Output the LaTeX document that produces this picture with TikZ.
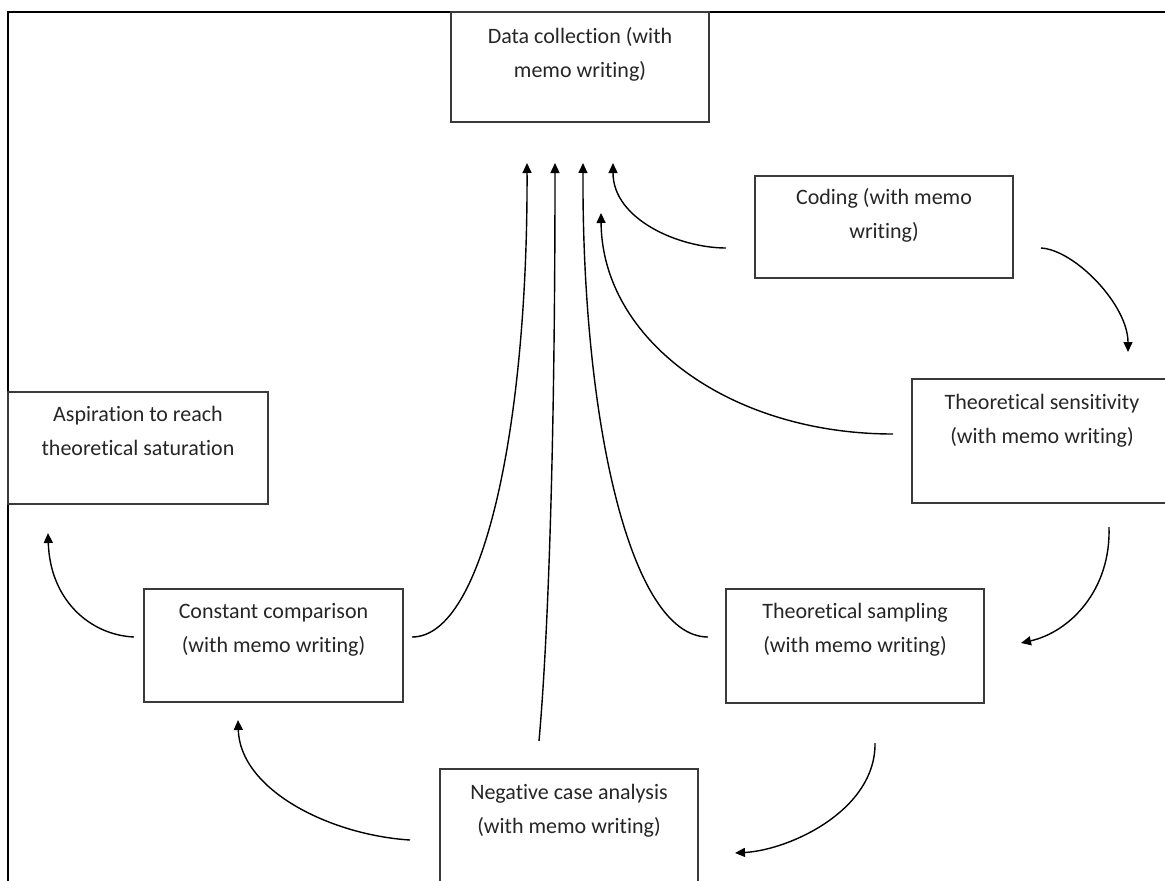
\documentclass[tikz,border=0pt]{standalone}
\usepackage{fontspec}
\setmainfont{Carlito}[RawFeature={-liga}]
\usetikzlibrary{arrows.meta}
\definecolor{boxline}{HTML}{3A3A3A}
\definecolor{txt}{HTML}{262626}
\newcommand{\firstln}{\rule{0pt}{18pt}}
\begin{document}
\begin{tikzpicture}[x=1pt,y=-1pt,
  box/.style={draw=boxline, line width=1.4pt, rectangle, inner sep=0pt},
  lab/.style={anchor=north, align=center, inner sep=0pt, text=txt, font=\fontsize{22}{34.5}\selectfont},
  arr/.style={line width=1.4pt, -{Triangle[length=10pt,width=9pt]}},
  frame/.style={line width=2pt, black}
]
\useasboundingbox (0,0) rectangle (1165,881);
\clip (0,0) rectangle (1165,881);
\fill[white] (0,0) rectangle (1165,881);

% frame
\draw[frame] (8,881) -- (8,12) -- (1165,12);

% boxes
\node[box, minimum width=258pt, minimum height=110pt] (data)  at (580,67)    {};
\node[box, minimum width=258pt, minimum height=102pt] (coding) at (884,227)  {};
\node[box, minimum width=260pt, minimum height=124pt] (sens)  at (1042,441)  {};
\node[box, minimum width=260pt, minimum height=112pt] (asp)   at (138,448)   {};
\node[box, minimum width=259pt, minimum height=113pt] (const) at (273.5,645.5) {};
\node[box, minimum width=258pt, minimum height=114pt] (samp)  at (855,646)   {};
\node[box, minimum width=258pt, minimum height=120pt] (neg)   at (569,829)   {};

% texts
\node[lab] (datat)   at (580,25)  {\firstln Data collection (with\\memo writing)};
\node[lab] (codingt) at (884,186) {\firstln Coding (with memo\\writing)};
\node[lab] (senst)   at (1042,391) {\firstln Theoretical sensitivity\\(with memo writing)};
\node[lab] (aspt)    at (138,403) {\firstln Aspiration to reach\\theoretical saturation};
\node[lab] (constt)  at (273.5,600) {\firstln Constant comparison\\(with memo writing)};
\node[lab] (sampt)   at (855,600) {\firstln Theoretical sampling\\(with memo writing)};
\node[lab] (negt)    at (569,781) {\firstln Negative case analysis\\(with memo writing)};

% connector end points
\coordinate (a1s) at (412,637);  \coordinate (a1e) at (527,163);
\coordinate (a2s) at (539,741);  \coordinate (a2e) at (555,163);
\coordinate (a3s) at (708,637);  \coordinate (a3e) at (583,163);
\coordinate (a4s) at (893,434);  \coordinate (a4e) at (601,213);
\coordinate (a5s) at (726,248);  \coordinate (a5e) at (613,163);
\coordinate (a6s) at (1041,248); \coordinate (a6e) at (1128,352);
\coordinate (a7s) at (1109,527); \coordinate (a7e) at (1021,643);
\coordinate (a8s) at (875,743);  \coordinate (a8e) at (735,853);
\coordinate (a9s) at (410,840);  \coordinate (a9e) at (238,720);
\coordinate (a10s) at (134,637); \coordinate (a10e) at (48,533);

% connectors
\draw[arr] (a1s) .. controls (485,637) and (528,420) .. (a1e);
\draw[arr] (a2s) .. controls (548,640) and (555,450) .. (a2e);
\draw[arr] (a3s) .. controls (630,637) and (582,420) .. (a3e);
\draw[arr] (a4s) .. controls (730,434) and (602,340) .. (a4e);
\draw[arr] (a5s) .. controls (680,248) and (613,220) .. (a5e);
\draw[arr] (a6s) .. controls (1075,250) and (1128,305) .. (a6e);
\draw[arr] (a7s) .. controls (1111,590) and (1070,632) .. (a7e);
\draw[arr] (a8s) .. controls (876,810) and (790,850) .. (a8e);
\draw[arr] (a9s) .. controls (330,835) and (240,790) .. (a9e);
\draw[arr] (a10s) .. controls (90,635) and (50,600) .. (a10e);
\end{tikzpicture}
\end{document}
